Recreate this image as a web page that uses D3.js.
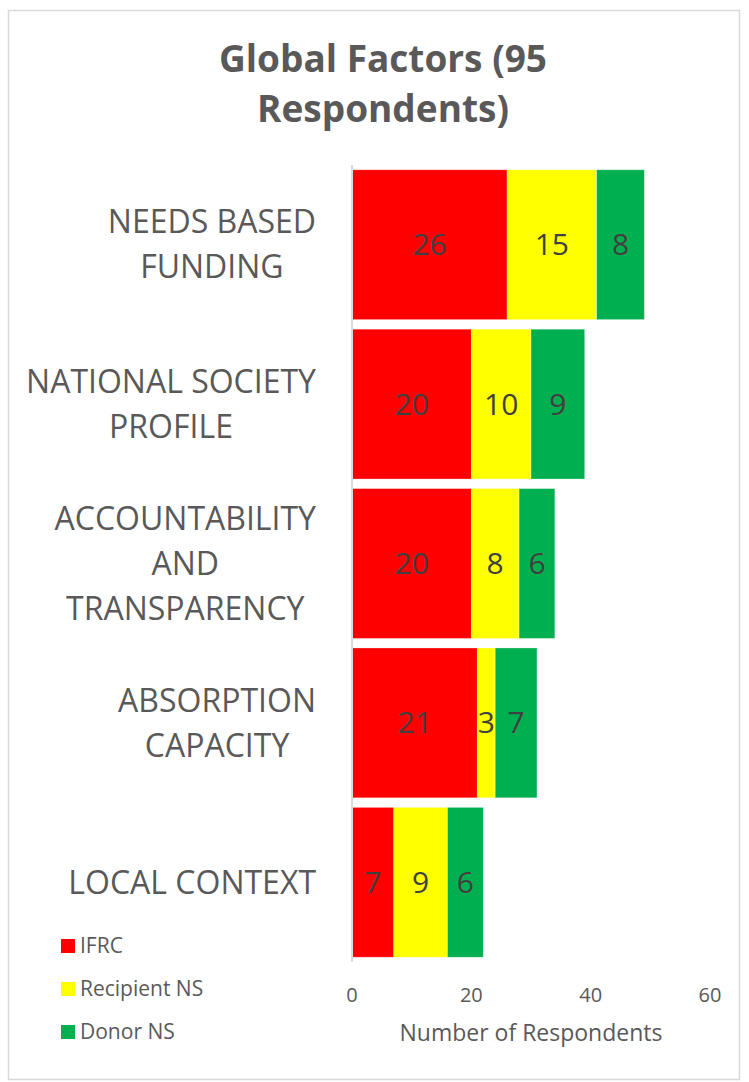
<!DOCTYPE html>
<html>
<head>
<meta charset="utf-8">
<script src="https://cdn.jsdelivr.net/npm/d3@7"></script>
<style>
  body { margin: 0; background: #fff; }
  svg { display: block; font-family: "Open Sans", sans-serif; }
</style>
</head>
<body>
<svg id="chart"></svg>
<script>
const width = 749;
const height = 1082;

// chart data
const categories = [
    ["NEEDS BASED", "FUNDING"],
    ["NATIONAL SOCIETY", "PROFILE"],
    ["ACCOUNTABILITY", "AND", "TRANSPARENCY"],
    ["ABSORPTION", "CAPACITY"],
    ["LOCAL CONTEXT"]
];
const seriesNames = ["IFRC", "Recipient NS", "Donor NS"];
const seriesColors = ["#ff0000", "#ffff00", "#00b050"];
const ifrc = [26, 20, 20, 21, 7];
const recipient = [15, 10, 8, 3, 9];
const donor = [8, 9, 6, 7, 6];
const xTicks = [0, 20, 40, 60];

const rows = categories.map((c, i) => ({
    key: i,
    "IFRC": ifrc[i],
    "Recipient NS": recipient[i],
    "Donor NS": donor[i]
}));

const svg = d3.select("#chart")
    .attr("width", width)
    .attr("height", height);

// outer frame
svg.append("rect")
    .attr("x", 8.5)
    .attr("y", 10.5)
    .attr("width", 731)
    .attr("height", 1069)
    .attr("fill", "#fff")
    .attr("stroke", "#d9d9d9")
    .attr("stroke-width", 1.5);

// title
const title = svg.append("text")
    .attr("text-anchor", "middle")
    .attr("fill", "#595959")
    .attr("font-weight", "bold")
    .attr("font-size", 37);
title.append("tspan").attr("x", 383).attr("y", 72).text("Global Factors (95");
title.append("tspan").attr("x", 383).attr("y", 122).text("Respondents)");

const x = d3.scaleLinear()
    .domain([0, 60])
    .range([352, 710]);

const y = d3.scaleBand()
    .domain(d3.range(categories.length))
    .range([165, 962])
    .paddingInner(0.06)
    .paddingOuter(0.03);

const stack = d3.stack().keys(seriesNames);
const stacked = stack(rows);

const layers = svg.selectAll(".layer")
    .data(stacked)
    .enter()
    .append("g")
    .attr("class", "layer")
    .attr("fill", (d, i) => seriesColors[i]);

layers.selectAll("rect")
    .data(d => d)
    .enter()
    .append("rect")
    .attr("x", d => x(d[0]))
    .attr("y", (d, i) => y(i))
    .attr("width", d => x(d[1]) - x(d[0]))
    .attr("height", y.bandwidth())
    .attr("stroke", "#fff")
    .attr("stroke-opacity", 0.4)
    .attr("stroke-width", 0.75);

// value labels
layers.selectAll(".value")
    .data(d => d)
    .enter()
    .append("text")
    .attr("class", "value")
    .attr("x", d => (x(d[0]) + x(d[1])) / 2)
    .attr("y", (d, i) => y(i) + y.bandwidth() / 2)
    .attr("dy", "0.35em")
    .attr("text-anchor", "middle")
    .attr("fill", "#404040")
    .attr("font-size", 30)
    .text(d => d[1] - d[0]);

// vertical axis line
svg.append("line")
    .attr("x1", 352)
    .attr("x2", 352)
    .attr("y1", 165)
    .attr("y2", 962)
    .attr("stroke", "#d9d9d9")
    .attr("stroke-width", 2);

// category labels: block right-aligned, lines centred inside block
const catSize = 32;
const lineH = 45;
const labelRight = 316;
categories.forEach((lines, i) => {
    const g = svg.append("text")
        .attr("fill", "#595959")
        .attr("font-size", catSize)
        .attr("text-anchor", "middle");
    const spans = lines.map(l => g.append("tspan").text(l));
    const maxW = d3.max(spans, s => s.node().getComputedTextLength());
    const cx = labelRight - maxW / 2;
    const cy = y(i) + y.bandwidth() / 2;
    const top = cy - (lines.length - 1) * lineH / 2;
    spans.forEach((s, k) => {
        s.attr("x", cx).attr("y", top + k * lineH).attr("dy", "0.35em");
    });
});

// x axis tick labels
svg.append("g")
    .selectAll("text")
    .data(xTicks)
    .enter()
    .append("text")
    .attr("x", d => x(d))
    .attr("y", 1002)
    .attr("text-anchor", "middle")
    .attr("fill", "#595959")
    .attr("font-size", 20)
    .text(d => d);

svg.append("text")
    .attr("x", 531)
    .attr("y", 1041)
    .attr("text-anchor", "middle")
    .attr("fill", "#595959")
    .attr("font-size", 23)
    .text("Number of Respondents");

// legend
const legend = svg.append("g")
    .selectAll("g")
    .data(seriesNames)
    .enter()
    .append("g")
    .attr("transform", (d, i) => `translate(61, ${946 + i * 43})`);

legend.append("rect")
    .attr("x", 0)
    .attr("y", -7)
    .attr("width", 14)
    .attr("height", 14)
    .attr("fill", (d, i) => seriesColors[i]);

legend.append("text")
    .attr("x", 19)
    .attr("y", 0)
    .attr("dy", "0.35em")
    .attr("fill", "#595959")
    .attr("font-size", 21)
    .text(d => d);
</script>
</body>
</html>
